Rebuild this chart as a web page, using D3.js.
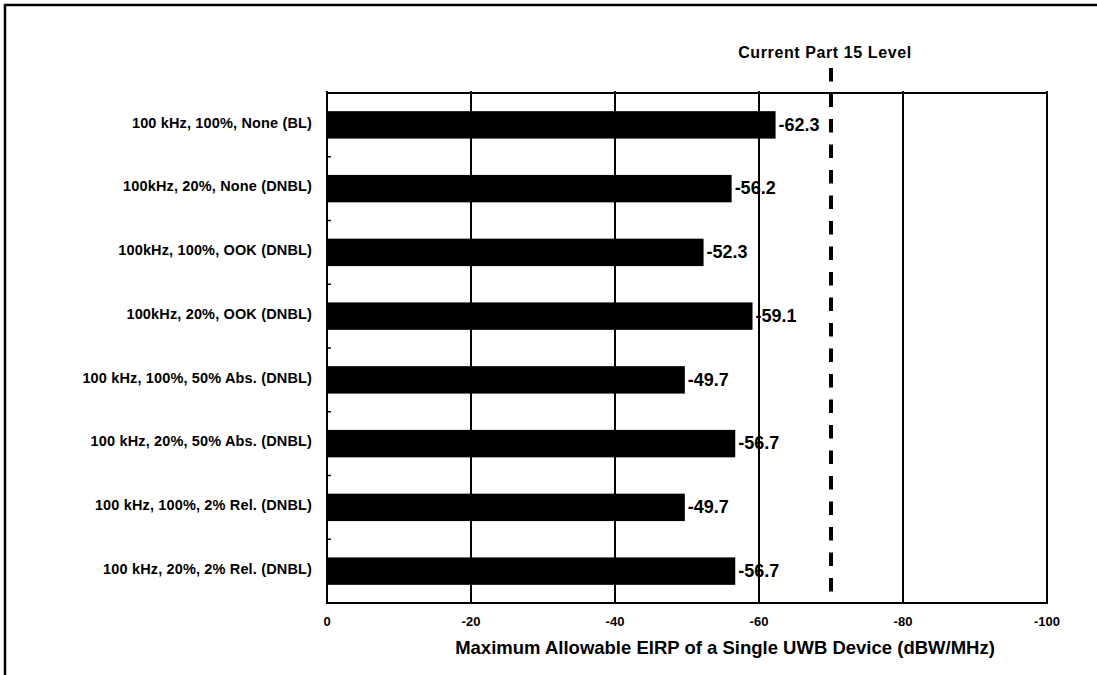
<!DOCTYPE html>
<html>
<head>
<meta charset="utf-8">
<script src="https://cdn.jsdelivr.net/npm/d3@7"></script>
<style>
  html, body { margin: 0; padding: 0; background: #fff; }
  svg { display: block; font-family: "Liberation Sans", Arial, sans-serif; font-weight: bold; }
</style>
</head>
<body>
<svg id="chart" width="1097" height="675"></svg>
<script>
const categories = [
  "100 kHz, 100%, None (BL)",
  "100kHz, 20%, None (DNBL)",
  "100kHz, 100%, OOK (DNBL)",
  "100kHz, 20%, OOK (DNBL)",
  "100 kHz, 100%, 50% Abs. (DNBL)",
  "100 kHz, 20%, 50% Abs. (DNBL)",
  "100 kHz, 100%, 2% Rel. (DNBL)",
  "100 kHz, 20%, 2% Rel. (DNBL)"
];
const values = [-62.3, -56.2, -52.3, -59.1, -49.7, -56.7, -49.7, -56.7];
const xTicks = [0, -20, -40, -60, -80, -100];
const part15Level = -70;
const part15Label = "Current Part 15 Level";
const xTitle = "Maximum Allowable EIRP of a Single UWB Device (dBW/MHz)";

const svg = d3.select("#chart");
const W = 1097, H = 675;
const m = { left: 327, right: 1047, top: 93, bottom: 603 };

// outer frame (only left and top visible)
svg.append("path")
  .attr("d", `M5,${H} L5,5 L${W},5`)
  .attr("fill", "none").attr("stroke", "#000").attr("stroke-width", 2.5);

const x = d3.scaleLinear().domain([0, -100]).range([m.left, m.right]);
const y = d3.scaleBand().domain(categories).range([m.top, m.bottom]).paddingInner(0.57).paddingOuter(0.285);
const yb = d3.scaleBand().domain(categories).range([m.top, m.bottom]);

// vertical gridlines
svg.append("g").selectAll("line").data(xTicks).join("line")
  .attr("x1", d => x(d)).attr("x2", d => x(d))
  .attr("y1", m.top - 2).attr("y2", m.bottom)
  .attr("stroke", "#000").attr("stroke-width", 2);

// plot border top & bottom
svg.append("line").attr("x1", m.left).attr("x2", m.right).attr("y1", m.top).attr("y2", m.top)
  .attr("stroke", "#000").attr("stroke-width", 2);
svg.append("line").attr("x1", m.left - 1).attr("x2", m.right + 1).attr("y1", m.bottom).attr("y2", m.bottom)
  .attr("stroke", "#000").attr("stroke-width", 2);

// y minor ticks at band boundaries (inside)
svg.append("g").selectAll("line").data(categories.slice(1)).join("line")
  .attr("x1", m.left).attr("x2", m.left + 4)
  .attr("y1", d => yb(d)).attr("y2", d => yb(d))
  .attr("stroke", "#000").attr("stroke-width", 1.5);

// bars
svg.append("g").selectAll("rect").data(values).join("rect")
  .attr("x", x(0))
  .attr("y", (d, i) => y(categories[i]))
  .attr("width", d => x(d) - x(0))
  .attr("height", y.bandwidth())
  .attr("fill", "#000");

// dashed Part 15 level line
svg.append("line")
  .attr("x1", x(part15Level)).attr("x2", x(part15Level))
  .attr("y1", 68).attr("y2", 594)
  .attr("stroke", "#000").attr("stroke-width", 4)
  .attr("stroke-dasharray", "13.5,12");

svg.append("text")
  .attr("x", x(part15Level) - 6).attr("y", 58)
  .attr("text-anchor", "middle")
  .attr("font-size", 16).attr("letter-spacing", 0.6)
  .text(part15Label);

// value labels
svg.append("g").selectAll("text").data(values).join("text")
  .attr("x", d => x(d) + 3)
  .attr("y", (d, i) => yb(categories[i]) + yb.bandwidth() / 2 + 1)
  .attr("dominant-baseline", "middle")
  .attr("font-size", 18)
  .text(d => d.toFixed(1));

// category labels
svg.append("g").selectAll("text").data(categories).join("text")
  .attr("x", 312)
  .attr("y", d => yb(d) + yb.bandwidth() / 2 - 1)
  .attr("text-anchor", "end")
  .attr("dominant-baseline", "middle")
  .attr("font-size", 14.5).attr("letter-spacing", 0.15)
  .text(d => d);

// x tick labels
svg.append("g").selectAll("text").data(xTicks).join("text")
  .attr("x", d => x(d))
  .attr("y", 626)
  .attr("text-anchor", "middle")
  .attr("font-size", 13)
  .text(d => d3.format("d")(d).replace("−", "-"));

// x axis title
svg.append("text")
  .attr("x", 725).attr("y", 654)
  .attr("text-anchor", "middle")
  .attr("font-size", 18.5)
  .text(xTitle);
</script>
</body>
</html>
